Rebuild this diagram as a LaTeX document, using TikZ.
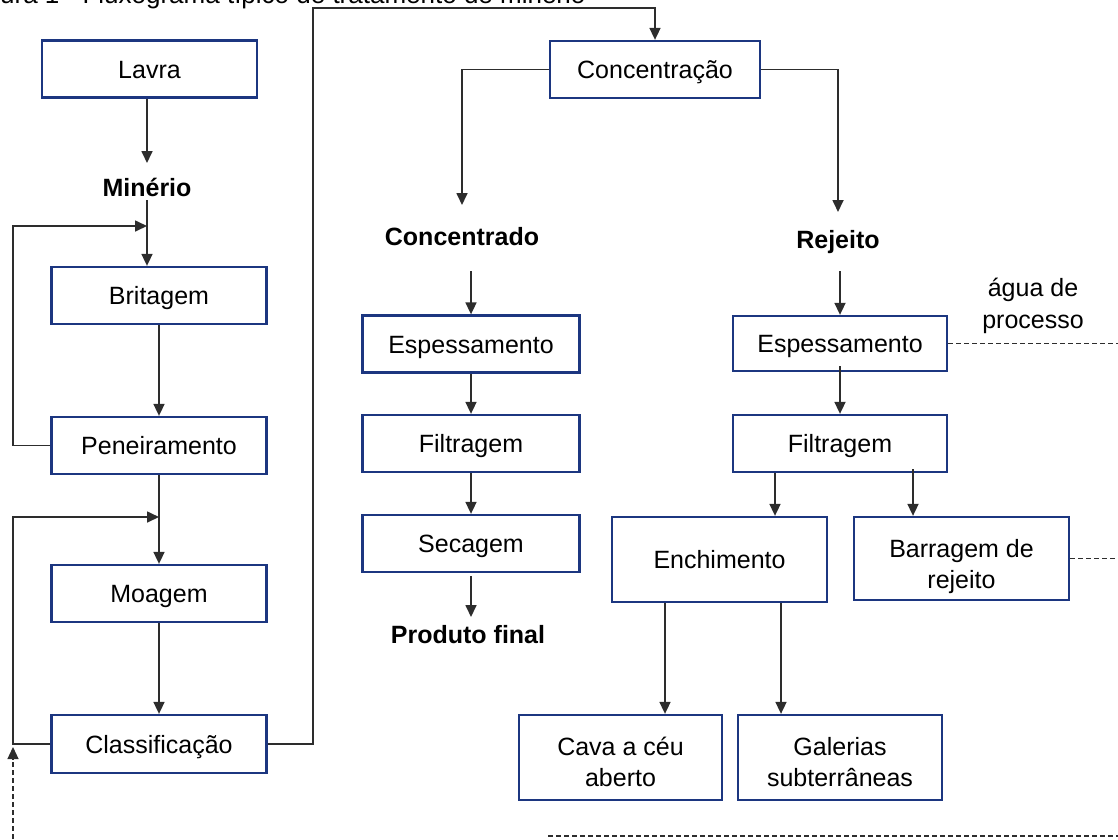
\documentclass[tikz,border=0pt]{standalone}
\usepackage{fontspec}
\setmainfont{Liberation Sans}
\usetikzlibrary{arrows.meta}
\definecolor{boxblue}{RGB}{28,54,128}
\definecolor{linegray}{RGB}{45,45,45}
\newcommand{\twolines}[3]{\raisebox{#1}[\height][\depth]{\begin{tabular}{@{}c@{}}#2\\#3\end{tabular}}}
\begin{document}
\begin{tikzpicture}[x=1pt,y=-1pt,
  box/.style={draw=boxblue, line width=2.3pt, fill=white, inner sep=0pt, align=center,
    font=\fontsize{25}{31}\selectfont, minimum height=57pt, text height=18pt, text depth=0pt},
  box2/.style={draw=boxblue, line width=2.3pt, fill=white, inner sep=0pt,
    font=\fontsize{25}{31}\selectfont},
  lbl/.style={inner sep=0pt, font=\fontsize{25}{31}\selectfont\bfseries},
  note/.style={inner sep=0pt, align=center, font=\fontsize{25}{32}\selectfont},
  conn/.style={draw=linegray, line width=1.7pt},
  arr/.style={conn, -{Triangle[length=12pt,width=11pt]}},
  dsh/.style={draw=linegray, line width=1.3pt, dash pattern=on 5pt off 3pt}]
\useasboundingbox (0,0) rectangle (1118,839);
% title (cut at top, as in the reference)
\node[anchor=base west, inner sep=0pt, font=\fontsize{26}{30}\selectfont] (title) at (0,3.5) {ura 1 - Fluxograma típico de tratamento de minério};
% left column
\node[box, minimum width=215pt] (lavra) at (149.5,69) {Lavra};
\node[lbl] (min) at (147,187) {Minério};
\node[box, minimum width=215pt] (brit) at (159,295.5) {Britagem};
\node[box, minimum width=215pt] (pen) at (159,445.5) {Peneiramento};
\node[box, minimum width=215pt] (moag) at (159,593.5) {Moagem};
\node[box, minimum width=215pt, minimum height=58pt] (class) at (159,744) {Classificação};
% middle
\node[box, minimum width=210pt] (conc) at (655,69.5) {Concentração};
\node[lbl] (concd) at (462,237) {Concentrado};
\node[box, minimum width=217pt] (lesp) at (471,344) {Espessamento};
\node[box, minimum width=217pt] (lfil) at (471,443.5) {Filtragem};
\node[box, minimum width=217pt] (lsec) at (471,543.5) {Secagem};
\node[lbl] (prod) at (468,635) {Produto final};
% right
\node[lbl] (rej) at (838,242) {Rejeito};
\node[note] (agua) at (1033,306) {água de\\processo};
\node[box, minimum width=214pt, minimum height=55pt] (resp) at (840,343.5) {Espessamento};
\node[box, minimum width=214pt] (rfil) at (840,443.5) {Filtragem};
\node[box, minimum width=215pt, minimum height=85pt] (ench) at (719.5,559.5) {Enchimento};
\node[box2, minimum width=215pt, minimum height=83pt] (barr) at (961.5,558.5) {\twolines{-8pt}{Barragem de}{rejeito}};
\node[box2, minimum width=203pt, minimum height=85pt] (cava) at (620.5,757.5) {\twolines{-7pt}{Cava a céu}{aberto}};
\node[box2, minimum width=204pt, minimum height=85pt] (gal) at (840,757.5) {\twolines{-7pt}{Galerias}{subterrâneas}};
% helper coordinates
\coordinate (fb1) at (13,226);
\coordinate (fb2) at (13,517);
\coordinate (topc) at (313,8);
\coordinate (dl) at (13,839);
\coordinate (re) at (1118,0);
\coordinate (b1) at (548,836);
\coordinate (b2) at (1118,836);
% left connectors
\draw[arr] (lavra.south -| min) -- ([yshift=24pt]min.center);
\draw[arr] ([yshift=-13pt]min.center) -- (brit.north -| min);
\draw[arr] (pen.west) -| (fb1) -- (fb1 -| min);
\draw[arr] (brit.south) -- (pen.north);
\draw[arr] (pen.south) -- (moag.north);
\draw[arr] (class.west) -| (fb2) -- (fb2 -| moag.north);
\draw[arr] (moag.south) -- (class.north);
\draw[arr] (class.east) -| (topc) -| (conc.north);
\draw[dsh, -{Triangle[length=12pt,width=11pt]}] (dl) -- ([yshift=-3pt]class.west -| dl);
% middle connectors
\draw[arr] (conc.west) -| ([yshift=32pt]concd.center);
\draw[arr] (conc.east) -| ([yshift=30pt]rej.center);
\draw[arr] ([yshift=-34pt]concd.center -| lesp.north) -- (lesp.north);
\draw[arr] (lesp.south) -- (lfil.north);
\draw[arr] (lfil.south) -- (lsec.north);
\draw[arr] ([yshift=-3pt]lsec.south) -- ([yshift=18pt]prod.center -| lsec.south);
% right connectors
\draw[arr] ([yshift=-29pt]rej.center -| resp.north) -- (resp.north);
\draw[arr] ([yshift=6pt]resp.south) -- (rfil.north);
\draw[arr] ([xshift=-65pt]rfil.south) -- ([xshift=-65pt]rfil.south |- ench.north);
\draw[arr] ([xshift=73pt,yshift=4pt]rfil.south) -- ([xshift=73pt]rfil.south |- barr.north);
\draw[arr] ([xshift=-54.5pt]ench.south) -- ([xshift=-54.5pt]ench.south |- cava.north);
\draw[arr] ([xshift=61.5pt]ench.south) -- ([xshift=61.5pt]ench.south |- gal.north);
\draw[dsh] (resp.east) -- (resp.east -| re);
\draw[dsh] (barr.east) -- (barr.east -| re);
\draw[dsh] (b1) -- (b2);
\end{tikzpicture}
\end{document}
